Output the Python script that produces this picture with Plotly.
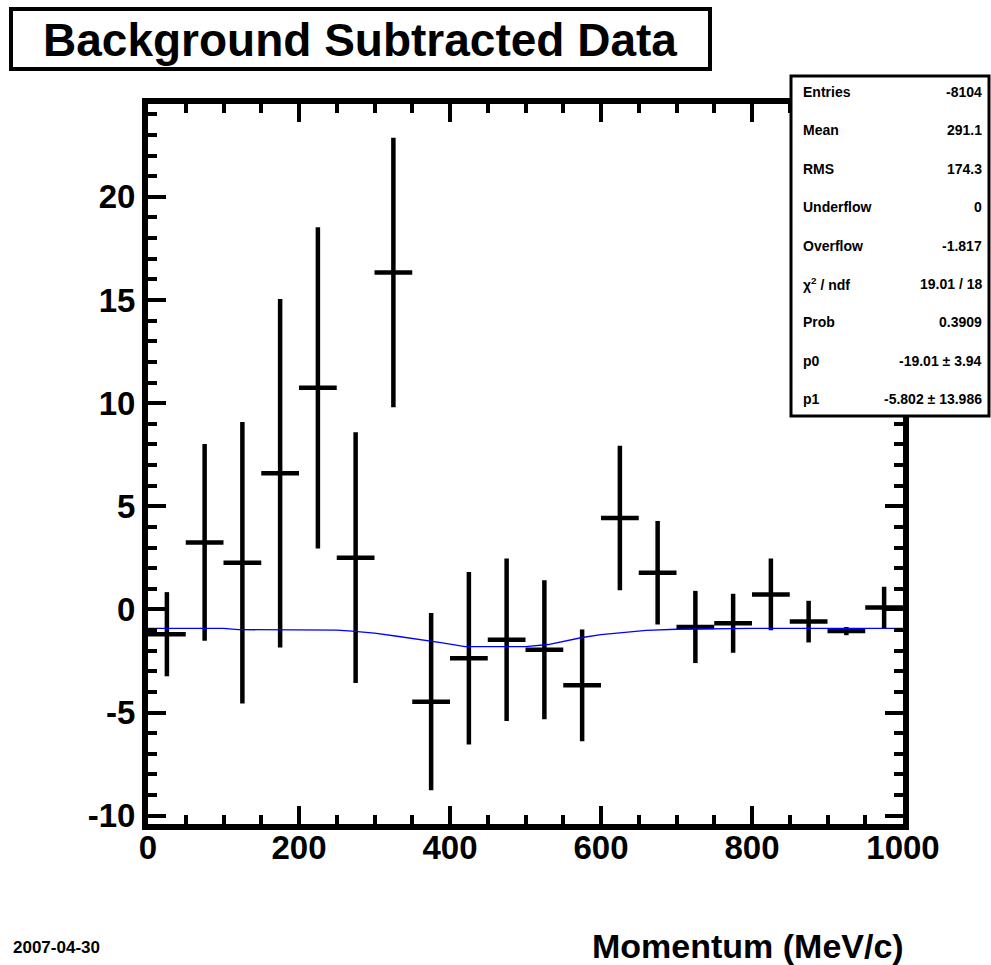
import plotly.graph_objects as go

# ---------------- data ----------------
bin_centers = [25, 75, 125, 175, 225, 275, 325, 375, 425, 475,
               525, 575, 625, 675, 725, 775, 825, 875, 925, 975]
counts = [-1.20, 3.25, 2.26, 6.60, 10.74, 2.51, 16.33, -4.47, -2.37, -1.47,
          -1.95, -3.68, 4.43, 1.78, -0.85, -0.67, 0.73, -0.59, -1.05, 0.09]
errors = [2.04, 4.77, 6.82, 8.45, 7.78, 6.08, 6.53, 4.30, 4.18, 3.94,
          3.37, 2.71, 3.50, 2.51, 1.75, 1.43, 1.74, 1.01, 0.20, 1.01]
bin_half_width = [25] * len(bin_centers)

fit_x = [0, 100, 120, 250, 270, 300, 330, 360, 390, 420, 500, 530, 550, 575, 600, 630, 660, 700, 750, 800, 1000]
fit_y = [-0.92, -0.92, -0.98, -1.00, -1.05, -1.15, -1.30, -1.45, -1.62, -1.80, -1.80, -1.70, -1.55, -1.36,
         -1.22, -1.10, -1.01, -0.96, -0.93, -0.92, -0.92]

x_range = [0, 1000]
y_range = [-10.4, 24.5]
x_ticks = [0, 200, 400, 600, 800, 1000]
y_ticks = [-10, -5, 0, 5, 10, 15, 20]

stat_labels = ["Entries", "Mean", "RMS", "Underflow", "Overflow",
               "χ<sup>2</sup> / ndf", "Prob", "p0", "p1"]
stat_values = ["-8104", "291.1", "174.3", "0", "-1.817",
               "19.01 / 18", "0.3909", "-19.01 ± 3.94", "-5.802 ± 13.986"]

title_text = "Background Subtracted Data"
x_title = "Momentum (MeV/c)"
date_text = "2007-04-30"

# ---------------- layout geometry ----------------
W, H = 991, 965
L, R, T, B = 148, 88, 104, 141
PW, PH = W - L - R, H - T - B
FONT = "Liberation Sans, Arial, Helvetica, sans-serif"


def px(x):
    return (x - L) / PW


def py(y):
    return (H - B - y) / PH


fig = go.Figure()

fig.add_trace(go.Scatter(
    x=bin_centers, y=counts, mode="markers",
    marker=dict(size=1, color="black"),
    error_y=dict(type="data", array=errors, visible=True, width=0, thickness=4.5, color="black"),
    error_x=dict(type="data", array=bin_half_width, visible=True, width=0, thickness=4.5, color="black"),
    showlegend=False, hoverinfo="x+y",
))

fig.add_trace(go.Scatter(
    x=fit_x, y=fit_y, mode="lines",
    line=dict(color="#0000ff", width=1.3),
    showlegend=False,
))

axis_common = dict(
    showline=True, linewidth=6, linecolor="black", mirror="ticks",
    ticks="inside", ticklen=18, tickwidth=4, tickcolor="black",
    showgrid=False, zeroline=False,
    tickfont=dict(family=FONT, size=33, color="black", weight="bold"),
)

fig.update_xaxes(range=x_range, tickvals=x_ticks, ticktext=[str(v) for v in x_ticks],
                 ticklabelstandoff=-11,
                 minor=dict(ticks="inside", ticklen=9, tickwidth=4, tickcolor="black", dtick=50, tick0=0),
                 **axis_common)
fig.update_yaxes(range=y_range, tickvals=y_ticks, ticktext=[str(v) for v in y_ticks],
                 minor=dict(ticks="inside", ticklen=9, tickwidth=4, tickcolor="black", dtick=1, tick0=0),
                 **axis_common)

shapes = []
# title box
shapes.append(dict(type="rect", xref="paper", yref="paper",
                   x0=px(11), x1=px(710), y0=py(69), y1=py(9),
                   line=dict(color="black", width=4), fillcolor="white", layer="above"))
# stats box
shapes.append(dict(type="rect", xref="paper", yref="paper",
                   x0=px(791), x1=px(989), y0=py(416), y1=py(76),
                   line=dict(color="black", width=3), fillcolor="white", layer="above"))

annotations = []
annotations.append(dict(text=title_text, xref="paper", yref="paper", x=px(360), y=py(40),
                        xanchor="center", yanchor="middle", showarrow=False,
                        font=dict(family=FONT, size=46, color="black", weight="bold")))

row0, dy = 92, 38.4
for i, (lab, val) in enumerate(zip(stat_labels, stat_values)):
    yy = row0 + i * dy
    annotations.append(dict(text=lab, xref="paper", yref="paper", x=px(801), y=py(yy),
                            xanchor="left", yanchor="middle", showarrow=False,
                            font=dict(family=FONT, size=14, color="black", weight="bold")))
    annotations.append(dict(text=val, xref="paper", yref="paper", x=px(984), y=py(yy),
                            xanchor="right", yanchor="middle", showarrow=False,
                            font=dict(family=FONT, size=14, color="black", weight="bold")))

annotations.append(dict(text=x_title, xref="paper", yref="paper", x=px(906), y=py(946),
                        xanchor="right", yanchor="middle", showarrow=False,
                        font=dict(family=FONT, size=34, color="black", weight="bold")))
annotations.append(dict(text=date_text, xref="paper", yref="paper", x=px(11), y=py(947),
                        xanchor="left", yanchor="middle", showarrow=False,
                        font=dict(family=FONT, size=17, color="black", weight="bold")))

fig.update_layout(
    width=W, height=H, autosize=False,
    margin=dict(l=L, r=R, t=T, b=B, pad=0),
    paper_bgcolor="white", plot_bgcolor="white",
    font=dict(family=FONT, color="black"),
    shapes=shapes, annotations=annotations,
    showlegend=False,
)

fig.write_html("out.html",
               config={"displayModeBar": False},
               post_script="document.body.style.margin='0';document.body.style.overflow='hidden';")
